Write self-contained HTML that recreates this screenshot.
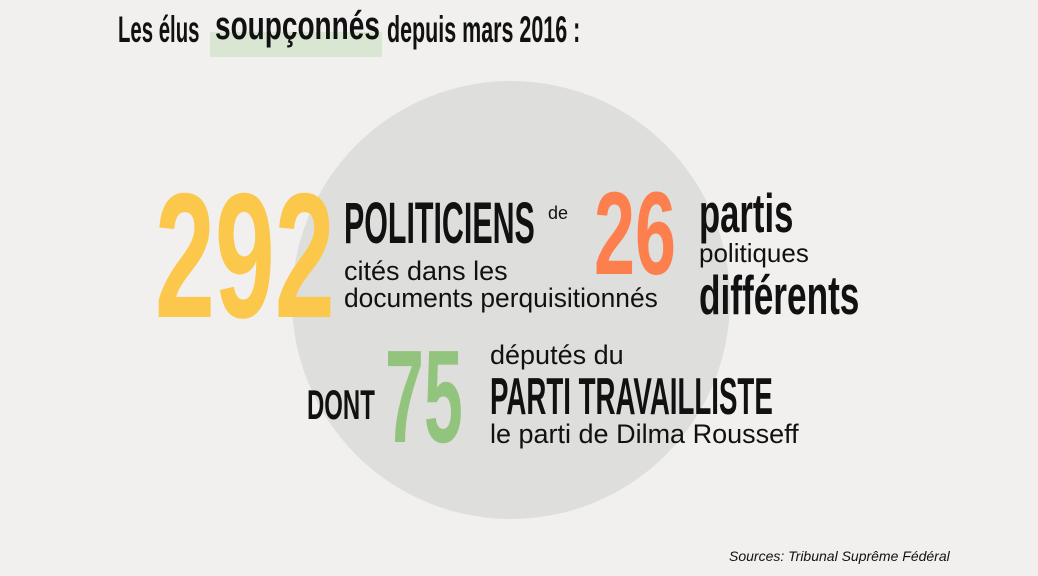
<!DOCTYPE html>
<html><head><meta charset="utf-8"><style>
html,body{margin:0;padding:0}
body{width:1038px;height:576px;background:#f1f0ee;position:relative;overflow:hidden;font-family:"Liberation Sans",sans-serif;color:#111}
.t{position:absolute;white-space:nowrap;line-height:1;transform-origin:0 0}
.b{font-weight:bold}
</style></head><body>
<div style="position:absolute;left:292px;top:81px;width:438px;height:438px;border-radius:50%;background:#dededc"></div>
<div style="position:absolute;left:210px;top:32px;width:172px;height:25px;background:#d9e6d2"></div>

<div class="t b" style="left:118px;top:11px;font-size:37px;transform:scaleX(0.55)">Les élus</div>
<div class="t b" style="left:215px;top:6px;font-size:40px;transform:scaleX(0.7)">soupçonnés</div>
<div class="t b" style="left:387px;top:11px;font-size:37px;transform:scaleX(0.58)">depuis mars 2016 :</div>

<div class="t b" style="left:155px;top:167px;font-size:178px;color:#fcc84c;transform:scaleX(0.605)">292</div>
<div class="t b" style="left:344px;top:195px;font-size:58px;transform:scaleX(0.524)">POLITICIENS</div>
<div class="t" style="left:548px;top:204px;font-size:18px">de</div>
<div class="t" style="left:344px;top:258px;font-size:27px">cités dans les</div>
<div class="t" style="left:344px;top:285px;font-size:27px;transform:scaleX(0.977)">documents perquisitionnés</div>

<div class="t b" style="left:594px;top:175px;font-size:118px;color:#fc7f4d;transform:scaleX(0.625)">26</div>
<div class="t b" style="left:699px;top:186px;font-size:55px;transform:scaleX(0.63)">partis</div>
<div class="t" style="left:699px;top:240px;font-size:26px">politiques</div>
<div class="t b" style="left:699px;top:268px;font-size:55px;transform:scaleX(0.64)">différents</div>

<div class="t b" style="left:307px;top:384px;font-size:42px;transform:scaleX(0.57)">DONT</div>
<div class="t b" style="left:385px;top:331px;font-size:132px;color:#93c47d;transform:scaleX(0.53)">75</div>
<div class="t" style="left:490px;top:342px;font-size:27px">députés du</div>
<div class="t b" style="left:490px;top:371px;font-size:52px;transform:scaleX(0.532)">PARTI TRAVAILLISTE</div>
<div class="t" style="left:490px;top:421px;font-size:27px">le parti de Dilma Rousseff</div>

<div class="t" style="left:729px;top:549px;font-size:14px;font-style:italic">Sources: Tribunal Suprême Fédéral</div>
</body></html>
